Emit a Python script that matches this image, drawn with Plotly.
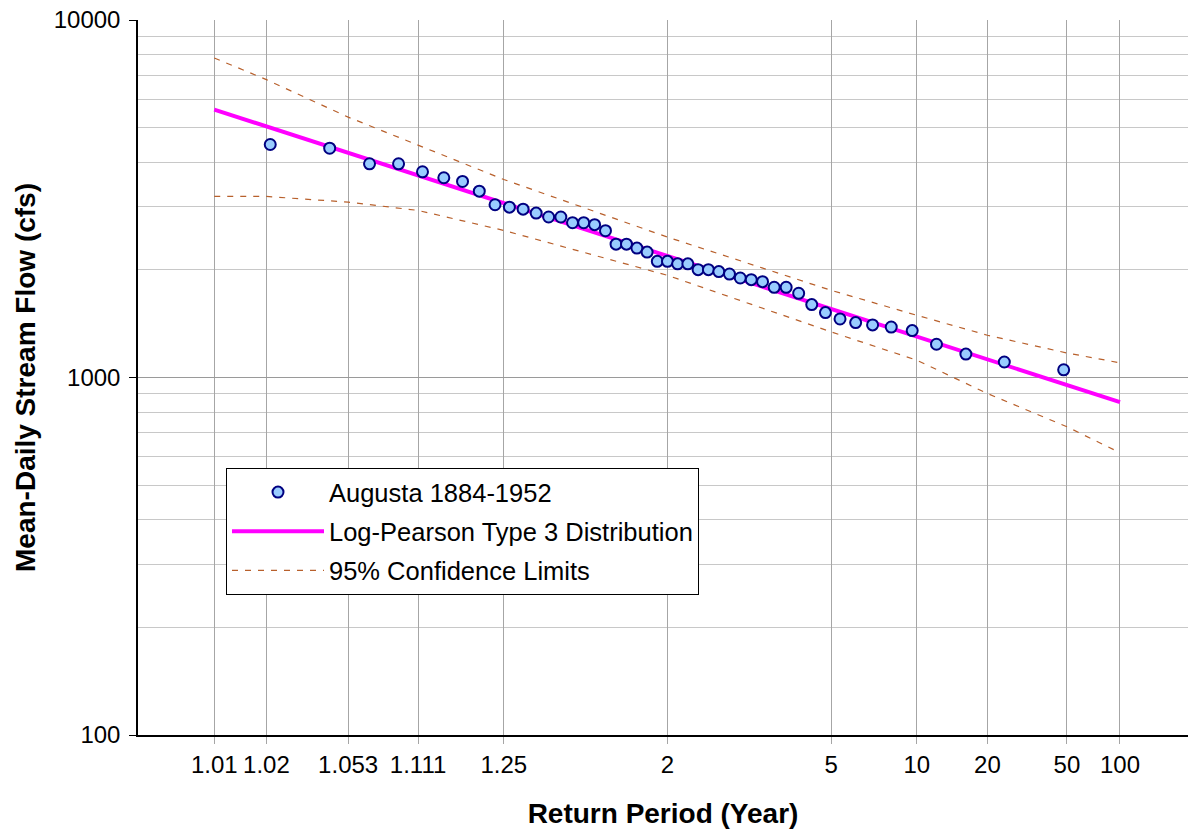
import plotly.graph_objects as go
from statistics import NormalDist

# Observed mean-daily flows (cfs), ranked, with their Weibull return periods (years)
obs_return_period = [
    1.021, 1.043, 1.067, 1.091, 1.116, 1.143, 1.171, 1.200, 1.231, 1.263,
    1.297, 1.333, 1.371, 1.412, 1.455, 1.500, 1.548, 1.600, 1.655, 1.714,
    1.778, 1.846, 1.920, 2.000, 2.087, 2.182, 2.286, 2.400, 2.526, 2.667,
    2.824, 3.000, 3.200, 3.429, 3.692, 4.000, 4.364, 4.800, 5.333, 6.000,
    6.857, 8.000, 9.600, 12.000, 16.000, 24.000, 48.000,
]
obs_flow = [
    4485, 4379, 3961, 3961, 3762, 3620, 3535, 3321, 3042, 2996,
    2957, 2883, 2812, 2812, 2710, 2710, 2676, 2574, 2360, 2360,
    2301, 2243, 2113, 2113, 2079, 2079, 2003, 2003, 1978, 1947,
    1898, 1878, 1854, 1788, 1788, 1720, 1599, 1519, 1458, 1424,
    1403, 1384, 1353, 1239, 1163, 1105, 1051,
]

# Fitted distribution and its confidence band
curve_return_period = [1.01, 1.02, 1.053, 1.111, 1.25, 2, 5, 10, 20, 50, 100]
lp3_flow = [5616, 5040, 4251, 3674, 3074, 2187, 1555, 1302, 1124, 952, 853]
upper_flow = [7832, 6811, 5350, 4456, 3580, 2470, 1753, 1493, 1313, 1171, 1099]
lower_flow = [3209, 3209, 3094, 2933, 2579, 1931, 1341, 1118, 902, 728, 616]

# Axis ticks
tick_return_period = [1.01, 1.02, 1.053, 1.111, 1.25, 2, 5, 10, 20, 50, 100]
tick_text = ["1.01", "1.02", "1.053", "1.111", "1.25", "2", "5", "10", "20", "50", "100"]

_nd = NormalDist()


def probability_scale(periods):
    """Standard normal variate of the non-exceedance probability 1 - 1/T."""
    return [_nd.inv_cdf(1 - 1 / t) for t in periods]


FONT = "Liberation Sans, Arial, sans-serif"
dash_color = "#b8602c"
dash_style = "6px,7px"

fig = go.Figure()

fig.add_trace(go.Scatter(
    x=probability_scale(curve_return_period), y=lp3_flow,
    mode="lines", name="Log-Pearson Type 3 Distribution",
    line=dict(color="#ff00ff", width=4),
    legendgroup="b", legendrank=2,
))
fig.add_trace(go.Scatter(
    x=probability_scale(curve_return_period), y=upper_flow,
    mode="lines", name="95% Confidence Limits",
    line=dict(color=dash_color, width=1.2, dash=dash_style),
    legendgroup="c", legendrank=3,
))
fig.add_trace(go.Scatter(
    x=probability_scale(curve_return_period), y=lower_flow,
    mode="lines", name="95% Confidence Limits", showlegend=False,
    line=dict(color=dash_color, width=1.2, dash=dash_style),
    legendgroup="c", legendrank=3,
))
fig.add_trace(go.Scatter(
    x=probability_scale(obs_return_period), y=obs_flow,
    mode="markers", name="Augusta 1884-1952",
    marker=dict(symbol="circle", size=11, color="#99ccff",
                line=dict(color="#000080", width=2)),
    legendgroup="a", legendrank=1,
))

minor_flow = [m * 10 ** k for k in (2, 3) for m in range(2, 10)]

fig.update_layout(
    width=1188, height=835,
    margin=dict(l=138, r=0, t=20, b=100),
    paper_bgcolor="white", plot_bgcolor="white",
    font=dict(family=FONT, size=24, color="black"),
    showlegend=True,
    legend=dict(
        x=(226 - 138) / 1050, y=(735 - 468) / 715,
        xanchor="left", yanchor="top",
        bgcolor="white", bordercolor="black", borderwidth=1,
        font=dict(family=FONT, size=25.5, color="black"),
        traceorder="grouped", tracegroupgap=3, itemwidth=92,
    ),
)

fig.update_xaxes(
    range=[-2.722, 2.676],
    tickmode="array",
    tickvals=probability_scale(tick_return_period),
    ticktext=tick_text,
    tickangle=0,
    ticks="outside", ticklen=7, tickcolor="#a6a6a6",
    showgrid=True, gridcolor="#a6a6a6", gridwidth=1,
    zeroline=False,
    showline=True, linecolor="black", linewidth=1.5,
    tickfont=dict(family=FONT, size=24),
    title=dict(text="<b>Return Period (Year)</b>",
               font=dict(family=FONT, size=28), standoff=27),
    automargin=False,
)
fig.update_yaxes(
    type="log", range=[2, 4],
    tickmode="array", tickvals=[100, 1000, 10000],
    ticktext=["100", "1000", "10000"],
    ticks="outside", ticklen=7, tickcolor="black",
    showgrid=True, gridcolor="#9a9a9a", gridwidth=1,
    minor=dict(tickmode="array", tickvals=minor_flow, showgrid=True,
               gridcolor="#c8c8c8", gridwidth=1, ticks=""),
    zeroline=False,
    showline=True, linecolor="black", linewidth=1.5,
    tickfont=dict(family=FONT, size=24),
    ticklabelstandoff=4,
    title=dict(text="<b>Mean-Daily Stream Flow (cfs)</b>",
               font=dict(family=FONT, size=28), standoff=10),
    automargin=False,
)

fig.write_html("out.html")
